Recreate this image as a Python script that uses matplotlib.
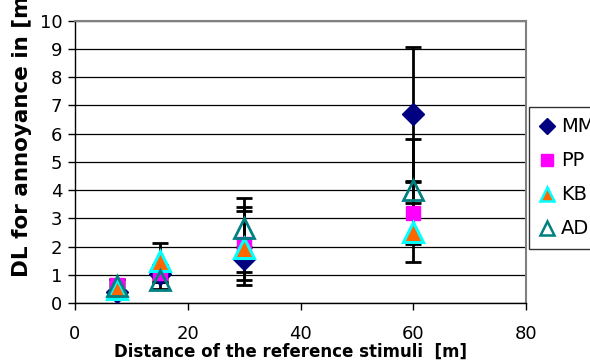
import numpy as np
import matplotlib
matplotlib.use("Agg")
import matplotlib.pyplot as plt
from matplotlib.lines import Line2D

# distances of the reference stimuli [m]
dist = [7.5, 15, 30, 60]

# DL values per subject
mm = [0.4, 1.03, 1.55, 6.7]
pp = [0.65, 1.05, 2.1, 3.2]
kb = [0.5, 1.49, 1.95, 2.5]
ad = [0.6, 0.8, 2.65, 4.0]

# error bar half lengths
mm_err = [0.2, 0.3, 0.45, 2.37]
pp_err = [0.2, 0.3, 1.3, 1.1]
kb_err = [0.2, 0.65, 1.3, 1.05]
ad_err = [0.2, 0.3, 1.08, 1.8]

names = ["MM", "PP", "KB", "AD"]

plt.rcParams['font.family'] = ['DejaVu Sans']

fig = plt.figure(figsize=(5.9, 3.62), dpi=100)
ax = fig.add_axes([75/590, 1-303/362, (526-75)/590, (303-20.7)/362])

# error bars first, behind the markers
for vals, err in [(mm, mm_err), (pp, pp_err), (kb, kb_err), (ad, ad_err)]:
    ax.errorbar(dist, vals, yerr=err, fmt='none', ecolor='black',
                elinewidth=2, capsize=6, capthick=2, zorder=2)

ax.plot(dist, mm, 'D', ms=11.5, color='#000080', mec='#000080', zorder=3)
ax.plot(dist, pp, 's', ms=10, color='#FF00FF', mec='#FF00FF', zorder=3)
ax.plot(dist, kb, '^', ms=14, color='#FF6600', mec='#00FFFF', mew=2.2, zorder=3)
ax.plot(dist, ad, '^', ms=14, mfc='none', mec='#008080', mew=2, zorder=4)

ax.set_xlim(0, 80)
ax.set_ylim(0, 10)
ax.set_xticks([0, 20, 40, 60, 80])
ax.set_yticks(range(0, 11))
ax.yaxis.grid(True, color='black', lw=0.9)
ax.set_axisbelow(True)
ax.tick_params(axis='both', direction='out', length=5, width=1, labelsize=13)
ax.tick_params(axis='x', pad=11)
ax.tick_params(axis='y', pad=4)
for s in ['top', 'right']:
    ax.spines[s].set_color('#808080')
    ax.spines[s].set_linewidth(1.5)
for s in ['left', 'bottom']:
    ax.spines[s].set_color('black')
    ax.spines[s].set_linewidth(1)

fig.text(290/590, 1-352/362, "Distance of the reference stimuli  [m]",
         ha='center', va='center', fontsize=12, fontweight='bold')
fig.text(22/590, 1-277/362, "DL for annoyance in [m]", rotation=90,
         ha='center', va='bottom', fontsize=15.5, fontweight='bold')

handles = [
    Line2D([], [], ls='none', marker='D', ms=8, color='#000080'),
    Line2D([], [], ls='none', marker='s', ms=9, color='#FF00FF'),
    Line2D([], [], ls='none', marker='^', ms=10, color='#FF6600', mec='#00FFFF', mew=1.8),
    Line2D([], [], ls='none', marker='^', ms=10, mfc='none', mec='#008080', mew=1.8),
]
leg = fig.legend(handles, names, loc='upper left',
                 bbox_to_anchor=(529/590, 1-106.7/362), fontsize=14,
                 frameon=True, fancybox=False, edgecolor='black',
                 handlelength=0.8, handletextpad=0.3, labelspacing=0.77,
                 borderpad=0.55, borderaxespad=0)
leg.get_frame().set_linewidth(1)

fig.savefig("out.png", dpi=100)
